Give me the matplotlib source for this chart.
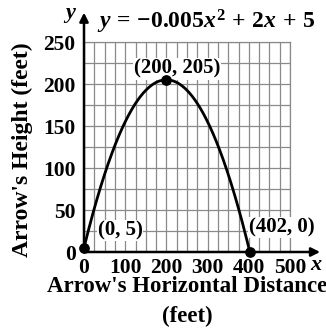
import numpy as np
import matplotlib
matplotlib.use("Agg")
import matplotlib.pyplot as plt

plt.rcParams['font.family'] = ['Liberation Serif', 'DejaVu Serif']
plt.rcParams['font.weight'] = 'bold'
plt.rcParams['mathtext.fontset'] = 'custom'
plt.rcParams['mathtext.rm'] = 'Liberation Serif:bold'
plt.rcParams['mathtext.it'] = 'Liberation Serif:italic:bold'
plt.rcParams['mathtext.bf'] = 'Liberation Serif:bold'

# quadratic coefficients y = a x^2 + b x + c
a, b, c = -0.005, 2, 5
x_ticks = [0, 100, 200, 300, 400, 500]
y_ticks = [0, 50, 100, 150, 200, 250]
pt_x = [0, 200, 402]
pt_y = [5, 205, 0]
pt_labels = ["(0, 5)", "(200, 205)", "(402, 0)"]

fig = plt.figure(figsize=(3.26, 3.29), dpi=100)
ax = fig.add_axes([84/326, 77/329, 206/326, 210/329])

# curve
xs = np.linspace(0, 402, 300)
ys = a * xs**2 + b * xs + c
ax.plot(xs, ys, color='black', lw=2, zorder=4, clip_on=False)
ax.scatter(pt_x, pt_y, s=45, color='black', zorder=5, clip_on=False)

ax.set_xlim(0, 500)
ax.set_ylim(0, 250)
grid_x = np.arange(0, 501, 25)
grid_y = np.arange(0, 251, 25)
ax.set_xticks(grid_x)
ax.set_yticks(grid_y)
ax.grid(True, color='#8a8a8a', lw=0.9)
ax.tick_params(length=0, labelsize=15.5)
ax.tick_params(axis='x', pad=4)
ax.tick_params(axis='y', pad=6)
ax.set_xticklabels([str(v) if v in x_ticks else "" for v in grid_x])
ax.set_yticklabels([str(v) if v in y_ticks else "" for v in grid_y])
for lbl in ax.get_xticklabels() + ax.get_yticklabels():
    lbl.set_fontweight('bold')
for s in ['top', 'right']:
    ax.spines[s].set_color('#8a8a8a')
    ax.spines[s].set_linewidth(0.9)
for s in ['left', 'bottom']:
    ax.spines[s].set_visible(False)

# axes with arrows
ax.annotate("", xy=(573, 0), xytext=(0, 0), annotation_clip=False,
            arrowprops=dict(arrowstyle='-|>', color='black', lw=1.8, mutation_scale=13,
                            shrinkA=0, shrinkB=0))
ax.annotate("", xy=(0, 285), xytext=(0, 0), annotation_clip=False,
            arrowprops=dict(arrowstyle='-|>', color='black', lw=1.8, mutation_scale=13,
                            shrinkA=0, shrinkB=0))
ax.text(562, -15, "x", style='italic', fontsize=16, ha='center', va='center', clip_on=False)
ax.text(-34, 284, "y", style='italic', fontsize=16, ha='center', va='center', clip_on=False)

# equation
ax.text(31, 274, r"$y\, =\, {-}0.005x^2\, +\, 2x\, +\, 5$", fontsize=17, ha='left', va='center')

# point labels
box = dict(facecolor='white', edgecolor='none', pad=0.5)
ax.text(226, 218, pt_labels[1], fontsize=15, ha='center', va='center', bbox=box)
ax.text(88, 26, pt_labels[0], fontsize=15, ha='center', va='center', bbox=box)
ax.text(480, 29, pt_labels[2], fontsize=15, ha='center', va='center', bbox=box, clip_on=False)

fig.text(187/326, 1 - 287/329, "Arrow's Horizontal Distance", fontsize=16.5,
         fontweight='bold', ha='center', va='center')
fig.text(187/326, 1 - 316/329, "(feet)", fontsize=16.5,
         fontweight='bold', ha='center', va='center')
fig.text(22/326, 1 - 150/329, "Arrow's Height (feet)", fontsize=17,
         fontweight='bold', ha='center', va='center', rotation=90)

fig.savefig("out.png", dpi=100)
